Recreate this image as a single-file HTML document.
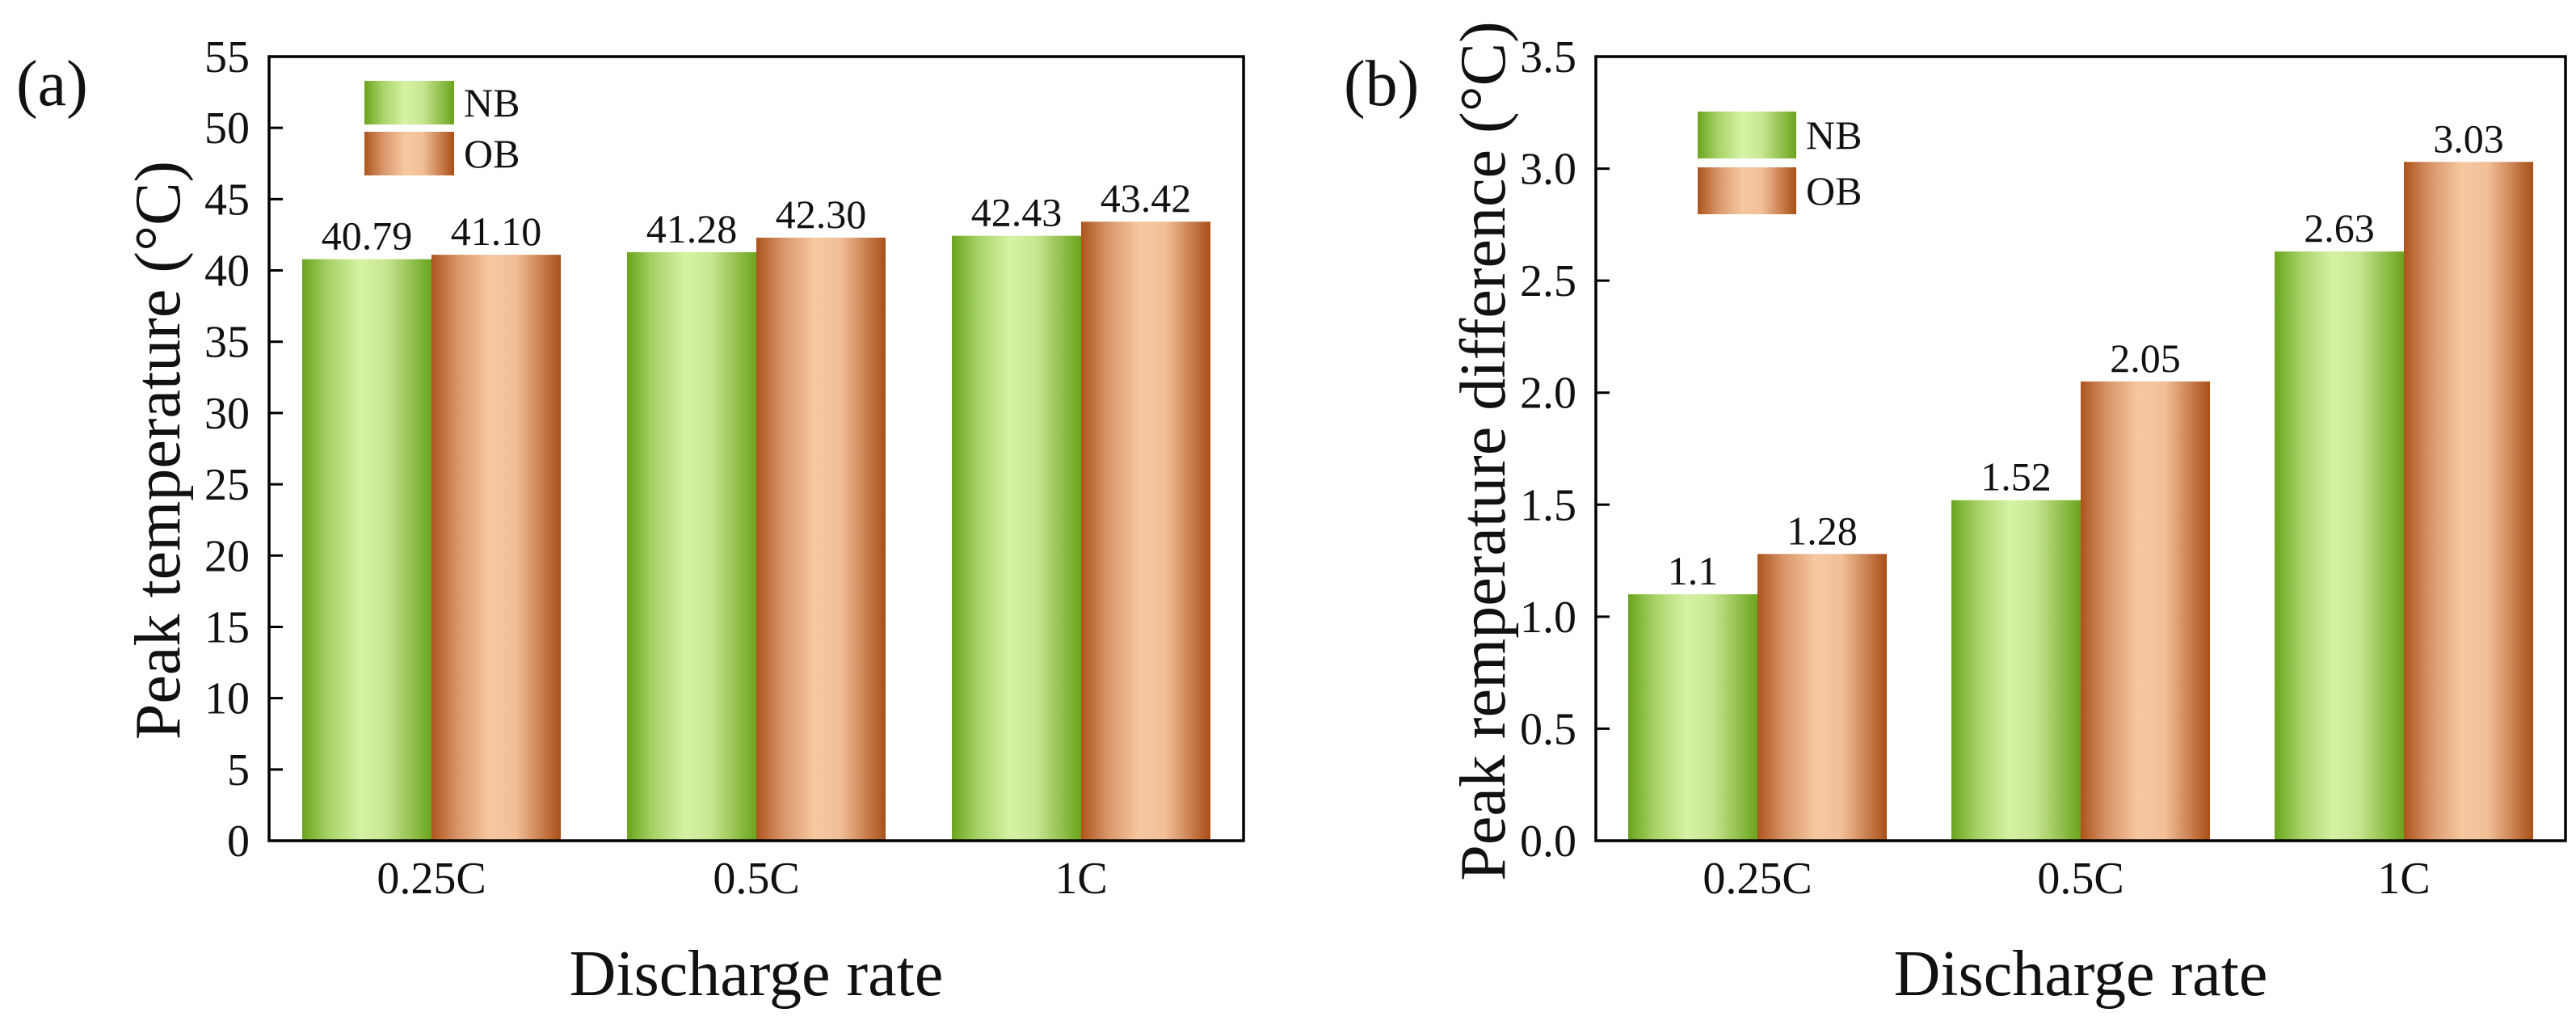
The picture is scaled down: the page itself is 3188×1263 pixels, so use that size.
<!DOCTYPE html>
<html><head><meta charset="utf-8"><style>
html,body{margin:0;padding:0;background:#fff;}
svg{display:block;font-family:"Liberation Serif",serif;}
</style></head><body>
<svg id="chart" width="3188" height="1263" viewBox="0 0 3188 1263">
<defs>
<linearGradient id="gNB" x1="0" x2="1" y1="0" y2="0">
<stop offset="0" stop-color="#6aa41c"/><stop offset="0.2" stop-color="#a6d266"/><stop offset="0.45" stop-color="#d6f2a4"/><stop offset="0.65" stop-color="#c8e692"/><stop offset="1" stop-color="#6aa41c"/>
</linearGradient>
<linearGradient id="gOB" x1="0" x2="1" y1="0" y2="0">
<stop offset="0" stop-color="#ad541c"/><stop offset="0.2" stop-color="#d89468"/><stop offset="0.45" stop-color="#f7c8a0"/><stop offset="0.65" stop-color="#f2bf97"/><stop offset="1" stop-color="#a94f18"/>
</linearGradient>
</defs>
</svg>
<script>
const categories = ["0.25C","0.5C","1C"];
const seriesNames = ["NB","OB"];
const peakNB = [40.79, 41.28, 42.43];
const peakOB = [41.10, 42.30, 43.42];
const peakNBLabels = ["40.79","41.28","42.43"];
const peakOBLabels = ["41.10","42.30","43.42"];
const diffNB = [1.1, 1.52, 2.63];
const diffOB = [1.28, 2.05, 3.03];
const diffNBLabels = ["1.1","1.52","2.63"];
const diffOBLabels = ["1.28","2.05","3.03"];
const ticksA = [0,5,10,15,20,25,30,35,40,45,50,55];
const tickLabelsA = ["0","5","10","15","20","25","30","35","40","45","50","55"];
const ticksB = [0,0.5,1.0,1.5,2.0,2.5,3.0,3.5];
const tickLabelsB = ["0.0","0.5","1.0","1.5","2.0","2.5","3.0","3.5"];

const svg = document.getElementById('chart');
const NS = 'http://www.w3.org/2000/svg';
function mk(tag, attrs, text){
  const e = document.createElementNS(NS, tag);
  for (const k in attrs) e.setAttribute(k, attrs[k]);
  if (text !== undefined) e.textContent = text;
  svg.appendChild(e);
  return e;
}

function drawPanel(p){
  const yScale = v => p.bottom - (v - p.ymin) / (p.ymax - p.ymin) * (p.bottom - p.top);
  const gw = (p.right - p.left) / categories.length;
  const bw = 160;
  const xBand = (i, s) => p.left + gw * i + gw / 2 - bw + s * bw;
  // bars
  [p.nb, p.ob].forEach((vals, s) => {
    const labs = s === 0 ? p.nbL : p.obL;
    vals.forEach((v, i) => {
      const x = xBand(i, s), y = yScale(v);
      const r = mk('rect', {x: x, y: y, width: bw, height: p.bottom - y, fill: s === 0 ? 'url(#gNB)' : 'url(#gOB)'});
      
      
      const t = mk('text', {x: x + bw / 2, y: y - 12, 'font-size': 50, 'text-anchor': 'middle', fill: '#111'}, labs[i]);
      
      
    });
  });
  // frame
  const f = mk('rect', {x: p.left, y: p.top, width: p.right - p.left, height: p.bottom - p.top, fill: 'none', stroke: '#000', 'stroke-width': 3.5});
  
  
  // y ticks
  p.ticks.forEach((v, i) => {
    const y = yScale(v);
    const l = mk('line', {x1: p.left, x2: p.left + 17, y1: y, y2: y, stroke: '#000', 'stroke-width': 3});
    
    
    const t = mk('text', {x: p.left - 24, y: y + 19, 'font-size': 56, 'text-anchor': 'end', fill: '#111'}, p.tickL[i]);
    
    
  });
  // x labels
  categories.forEach((c, i) => {
    const t = mk('text', {x: p.left + gw * i + gw / 2, y: 1105, 'font-size': 56, 'text-anchor': 'middle', fill: '#111'}, c);
    
    
  });
  const xt = mk('text', {x: (p.left + p.right) / 2, y: 1231, 'font-size': 80, 'text-anchor': 'middle', fill: '#111'}, 'Discharge rate');
  
  
  const yt = mk('text', {x: 0, y: 0, 'font-size': 80, 'text-anchor': 'middle', fill: '#111', transform: 'translate(' + p.ytx + ',' + p.yty + ') rotate(-90)'}, p.ytitle);
  
  
  const pl = mk('text', {x: p.plx, y: 130, 'font-size': 80, fill: '#111'}, p.panel);
  
  
  // legend
  [0, 1].forEach(s => {
    const r = mk('rect', {x: p.lx, y: p.ly[s], width: p.lw, height: p.lh, fill: s === 0 ? 'url(#gNB)' : 'url(#gOB)'});
    
    
    const t = mk('text', {x: p.lx + p.lw + 12, y: p.ly[s] + p.lh / 2 + 17, 'font-size': 50, fill: '#111'}, seriesNames[s]);
    
    
  });
}

drawPanel({id:'a', left:333, right:1539, top:70, bottom:1040, ymin:0, ymax:55,
  nb:peakNB, ob:peakOB, nbL:peakNBLabels, obL:peakOBLabels, ticks:ticksA, tickL:tickLabelsA,
  ytitle:'Peak temperature (°C)', ytx:222, yty:557, panel:'(a)', plx:20,
  lx:451, ly:[100,163], lw:111, lh:54});
drawPanel({id:'b', left:1975, right:3175, top:70, bottom:1040, ymin:0, ymax:3.5,
  nb:diffNB, ob:diffOB, nbL:diffNBLabels, obL:diffOBLabels, ticks:ticksB, tickL:tickLabelsB,
  ytitle:'Peak remperature difference (°C)', ytx:1862, yty:558, panel:'(b)', plx:1663,
  lx:2101, ly:[138,207], lw:122, lh:58});
</script>
</body></html>
